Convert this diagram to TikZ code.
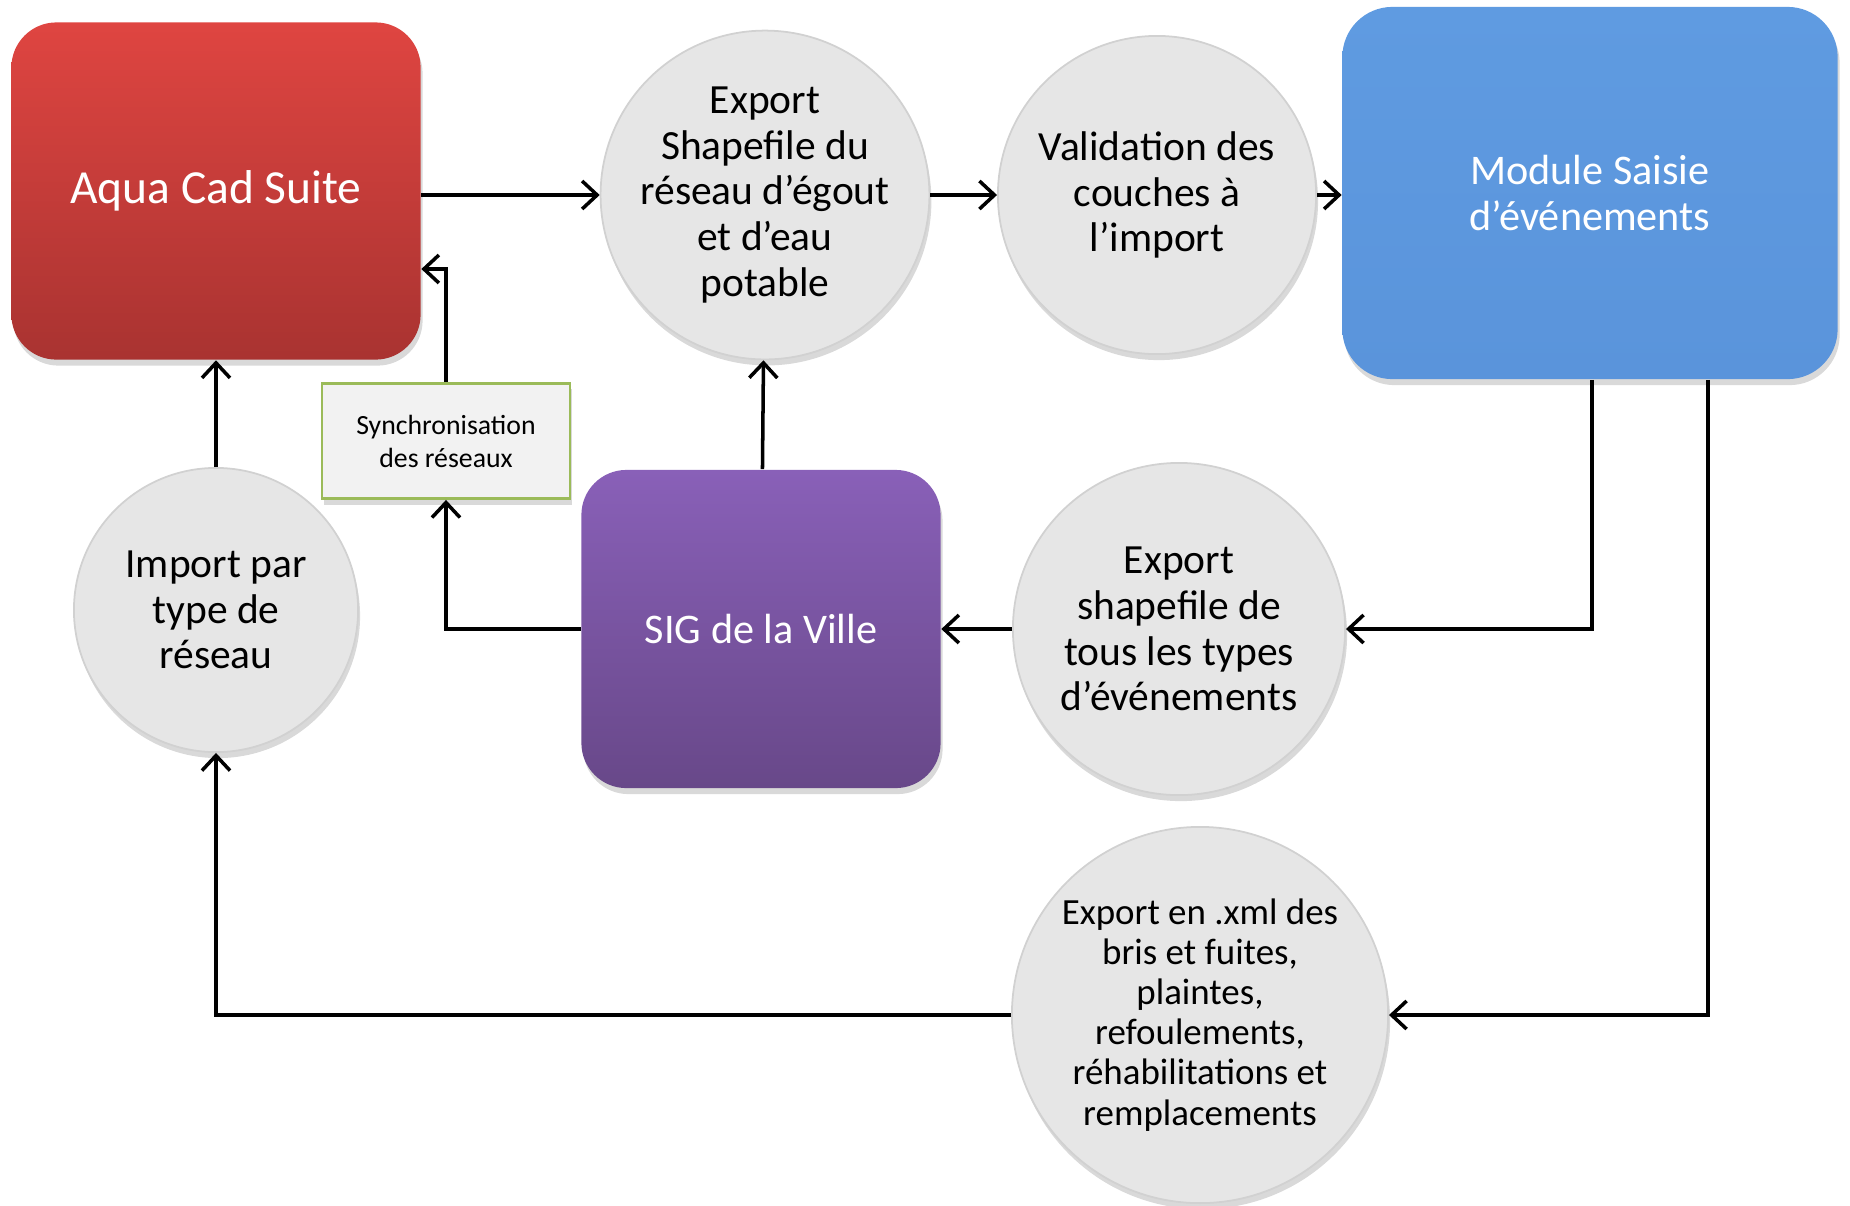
\documentclass[tikz,border=0pt]{standalone}
\usepackage{fontspec}
\setmainfont{Carlito}
\usetikzlibrary{arrows.meta,shadows}
\definecolor{rougehaut}{HTML}{DF4541}
\definecolor{rougebas}{HTML}{A93331}
\definecolor{bleuhaut}{HTML}{5F9BE1}
\definecolor{bleubas}{HTML}{5A94DB}
\definecolor{violethaut}{HTML}{8960B8}
\definecolor{violetbas}{HTML}{684889}
\definecolor{vertbord}{HTML}{9BBB59}
\definecolor{grisbulle}{HTML}{E6E6E6}
\begin{document}
\begin{tikzpicture}[>={Straight Barb[length=1.5mm,width=2.8mm]}, x=0.01cm, y=-0.01cm,
  ombre/.style={drop shadow={opacity=0.3, shadow xshift=0.02cm, shadow yshift=-0.06cm}},
  boite/.style={rectangle, rounded corners=0.45cm, inner sep=0pt, ombre, text=white, align=center, font=\fontsize{12}{13.2}\selectfont},
  bulle/.style={circle, inner sep=0pt, ombre, fill=grisbulle, draw=black!18, line width=0.5pt, align=center, font=\fontsize{11.8}{13}\selectfont},
  lien/.style={->, line width=1pt}]
\useasboundingbox (0,0) rectangle (1850,1205);
\node[boite, shade, top color=rougehaut, bottom color=rougebas, minimum width=4.09cm, minimum height=3.37cm, font=\fontsize{13.5}{15}\selectfont] (aqua) at (216,191) {Aqua Cad Suite};
\node[bulle, minimum size=3.18cm] (exportshp) at (765,195) {Export\\Shapefile du\\réseau d’égout\\et d’eau\\potable};
\node[bulle, minimum size=3.18cm] (valid) at (1157,195) {Validation des\\couches à\\l’import};
\node[boite, shade, top color=bleuhaut, bottom color=bleubas, rounded corners=0.5cm, minimum width=4.95cm, minimum height=3.72cm] (module) at (1590,193) {Module Saisie\\d’événements};
\node[rectangle, ombre, fill=black!5, draw=vertbord, line width=0.8pt, minimum width=2.48cm, minimum height=1.15cm, align=center, font=\fontsize{7.9}{9.4}\selectfont] (sync) at (446,441) {Synchronisation\\des réseaux};
\node[bulle, minimum size=2.84cm] (import) at (216,610) {Import par\\type de\\réseau};
\node[boite, shade, top color=violethaut, bottom color=violetbas, minimum width=3.59cm, minimum height=3.18cm] (sig) at (761,629) {SIG de la Ville};
\node[bulle, minimum size=3.32cm] (exporttous) at (1179,629) {Export\\shapefile de\\tous les types\\d’événements};
\node[bulle, minimum size=3.76cm, font=\fontsize{10.5}{11.4}\selectfont] (exportxml) at (1200,1015) {Export en .xml des\\bris et fuites,\\plaintes,\\refoulements,\\réhabilitations et\\remplacements};
\draw[lien] (aqua.east |- exportshp) -- (exportshp);
\draw[lien] (exportshp) -- (valid);
\draw[lien] (valid) -- (module.west |- valid);
\draw[lien] (sync.north) |- (aqua.east |- 0,269);
\draw[lien] (sig.west) -| (sync.south);
\draw[lien] (sig) -- (exportshp);
\draw[lien] (import) -- (aqua);
\draw[lien] (module.south -| 1592,0) |- (exporttous.east);
\draw[lien] (module.south -| 1708,0) |- (exportxml.east);
\draw[lien] (exporttous) -- (sig);
\draw[lien] (exportxml.west) -| (import.south);
\end{tikzpicture}
\end{document}
